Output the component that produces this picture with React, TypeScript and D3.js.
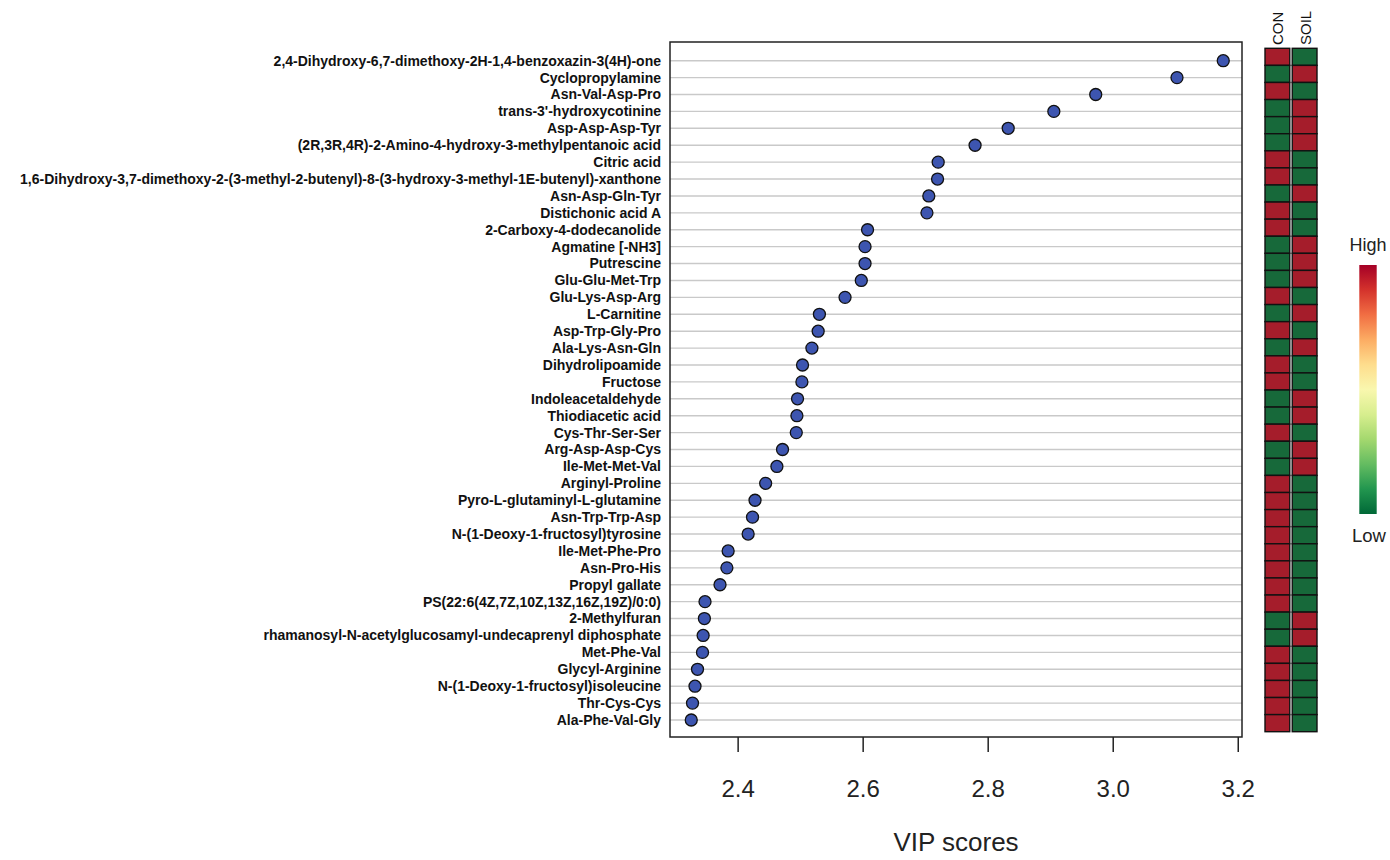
import React from 'react';
import * as d3 from 'd3';

// metabolites, top to bottom
const metabolites = [
  '2,4-Dihydroxy-6,7-dimethoxy-2H-1,4-benzoxazin-3(4H)-one',
  'Cyclopropylamine',
  'Asn-Val-Asp-Pro',
  "trans-3'-hydroxycotinine",
  'Asp-Asp-Asp-Tyr',
  '(2R,3R,4R)-2-Amino-4-hydroxy-3-methylpentanoic acid',
  'Citric acid',
  '1,6-Dihydroxy-3,7-dimethoxy-2-(3-methyl-2-butenyl)-8-(3-hydroxy-3-methyl-1E-butenyl)-xanthone',
  'Asn-Asp-Gln-Tyr',
  'Distichonic acid A',
  '2-Carboxy-4-dodecanolide',
  'Agmatine [-NH3]',
  'Putrescine',
  'Glu-Glu-Met-Trp',
  'Glu-Lys-Asp-Arg',
  'L-Carnitine',
  'Asp-Trp-Gly-Pro',
  'Ala-Lys-Asn-Gln',
  'Dihydrolipoamide',
  'Fructose',
  'Indoleacetaldehyde',
  'Thiodiacetic acid',
  'Cys-Thr-Ser-Ser',
  'Arg-Asp-Asp-Cys',
  'Ile-Met-Met-Val',
  'Arginyl-Proline',
  'Pyro-L-glutaminyl-L-glutamine',
  'Asn-Trp-Trp-Asp',
  'N-(1-Deoxy-1-fructosyl)tyrosine',
  'Ile-Met-Phe-Pro',
  'Asn-Pro-His',
  'Propyl gallate',
  'PS(22:6(4Z,7Z,10Z,13Z,16Z,19Z)/0:0)',
  '2-Methylfuran',
  'rhamanosyl-N-acetylglucosamyl-undecaprenyl diphosphate',
  'Met-Phe-Val',
  'Glycyl-Arginine',
  'N-(1-Deoxy-1-fructosyl)isoleucine',
  'Thr-Cys-Cys',
  'Ala-Phe-Val-Gly',
];

const vipScores = [
  3.176, 3.102, 2.972, 2.905, 2.832, 2.779, 2.72, 2.719, 2.705, 2.702,
  2.607, 2.603, 2.603, 2.597, 2.571, 2.53, 2.528, 2.518, 2.503, 2.502,
  2.495, 2.494, 2.493, 2.471, 2.462, 2.444, 2.427, 2.423, 2.416, 2.384,
  2.382, 2.371, 2.347, 2.346, 2.344, 2.343, 2.335, 2.331, 2.327, 2.325,
];

// relative abundance: 1 = high, 0 = low
const conLevel = [
  1, 0, 1, 0, 0, 0, 1, 1, 0, 1,
  1, 0, 0, 0, 1, 0, 1, 0, 1, 1,
  0, 0, 1, 0, 0, 1, 1, 1, 1, 1,
  1, 1, 1, 0, 0, 1, 1, 1, 1, 1,
];
const soilLevel = [
  0, 1, 0, 1, 1, 1, 0, 0, 1, 0,
  0, 1, 1, 1, 0, 1, 0, 1, 0, 0,
  1, 1, 0, 1, 1, 0, 0, 0, 0, 0,
  0, 0, 0, 1, 1, 0, 0, 0, 0, 0,
];

const groups = ['CON', 'SOIL'];
const xTicks = [2.4, 2.6, 2.8, 3.0, 3.2];

const W = 1390;
const H = 860;
const box = { left: 670, right: 1242, top: 42, bottom: 737 };
const font = '"Liberation Sans", Arial, sans-serif';

export default function App() {
  const x = d3.scaleLinear().domain([2.291, 3.206]).range([box.left, box.right]);
  const y = d3.scalePoint<string>().domain(metabolites).range([60.7, 720]);

  // heatmap columns
  const hx = d3.scaleBand<string>().domain(groups).range([1265, 1317]).paddingInner(0.09);
  const hy = d3.scaleBand<string>().domain(metabolites).range([48.3, 731.7]);
  const cellColor = (v: number) => (v === 1 ? '#a51d2b' : '#17693a');
  const levels: Record<string, number[]> = { CON: conLevel, SOIL: soilLevel };

  // colour key
  const keyY = d3.scaleLinear().domain([1, 0]).range([265, 514]);
  const stops = d3.range(0, 1.0001, 0.1);

  return (
    <svg
      width={W}
      height={H}
      style={{ position: 'absolute', left: 0, top: 0, background: '#fff' }}
      fontFamily={font}
    >
      <defs>
        <linearGradient id="key" x1="0" y1="0" x2="0" y2="1">
          {stops.map((t) => (
            <stop key={t} offset={t} stopColor={d3.interpolateRdYlGn(t)} />
          ))}
        </linearGradient>
      </defs>

      {/* grid lines */}
      {metabolites.map((m) => (
        <line key={'g' + m} x1={box.left} x2={box.right} y1={y(m)} y2={y(m)} stroke="#c9c9c9" strokeWidth={1.4} />
      ))}

      {/* dots */}
      {metabolites.map((m, i) => (
        <circle key={'c' + m} cx={x(vipScores[i])} cy={y(m)} r={6} fill="#3d55b0" stroke="#111" strokeWidth={1.3} />
      ))}

      <rect
        x={box.left}
        y={box.top}
        width={box.right - box.left}
        height={box.bottom - box.top}
        fill="none"
        stroke="#222"
        strokeWidth={1.5}
      />

      {/* row labels */}
      {metabolites.map((m) => (
        <text key={'t' + m} x={661} y={y(m)} dy="0.35em" textAnchor="end" fontWeight="bold" fontSize={14} fill="#111">
          {m}
        </text>
      ))}

      {/* x axis */}
      {xTicks.map((t) => (
        <g key={'x' + t}>
          <line x1={x(t)} x2={x(t)} y1={box.bottom} y2={752} stroke="#222" strokeWidth={1.5} />
          <text x={x(t)} y={797} textAnchor="middle" fontSize={24} fill="#222">
            {d3.format('.1f')(t)}
          </text>
        </g>
      ))}
      <text x={(box.left + box.right) / 2} y={851} textAnchor="middle" fontSize={26} fill="#222">
        VIP scores
      </text>

      {/* heatmap */}
      {groups.map((g) => (
        <g key={'h' + g}>
          {metabolites.map((m, i) => (
            <rect
              key={g + m}
              x={hx(g)}
              y={hy(m)}
              width={hx.bandwidth()}
              height={hy.bandwidth()}
              fill={cellColor(levels[g][i])}
              stroke="#111"
              strokeWidth={1.4}
            />
          ))}
          <text
            transform={`translate(${(hx(g) as number) + hx.bandwidth() / 2 + 6},45) rotate(-90)`}
            fontSize={15}
            fill="#111"
          >
            {g}
          </text>
        </g>
      ))}

      {/* colour key */}
      <rect x={1359.3} y={keyY(1)} width={17.4} height={keyY(0) - keyY(1)} fill="url(#key)" />
      <text x={1368} y={251} textAnchor="middle" fontSize={18} fill="#222">
        High
      </text>
      <text x={1369} y={541.5} textAnchor="middle" fontSize={18.5} fill="#222">
        Low
      </text>
    </svg>
  );
}
